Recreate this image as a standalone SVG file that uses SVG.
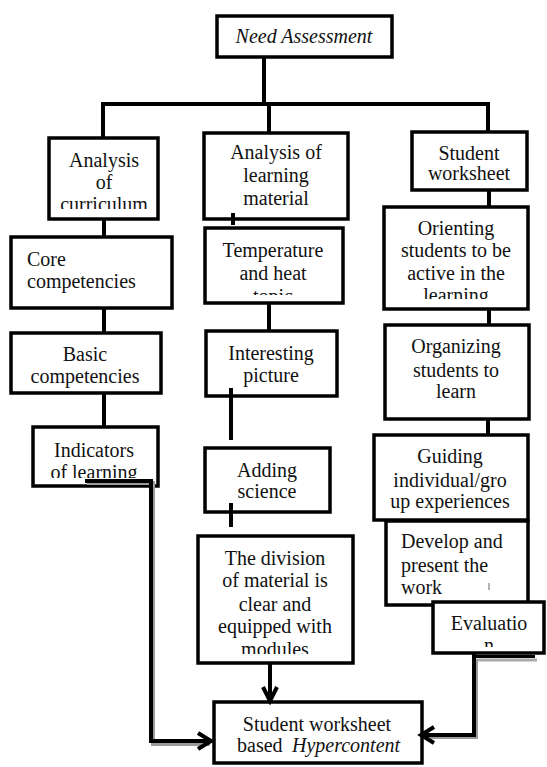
<svg xmlns="http://www.w3.org/2000/svg" width="547" height="767" viewBox="0 0 547 767">
<style>
.box{fill:#fff;stroke:#000;stroke-width:3.5}
.t{font-family:"Liberation Serif","Times New Roman",serif;font-size:20px;fill:#111}
.c{text-anchor:middle}
.ln{stroke:#000;stroke-width:4;fill:none}
.sh{stroke:#9a9a9a;stroke-width:4;fill:none}
</style>
<defs>
<clipPath id="cpCur"><rect x="49" y="138" width="110" height="71"/></clipPath>
<clipPath id="cpTem"><rect x="204" y="228" width="139" height="67"/></clipPath>
<clipPath id="cpOri"><rect x="383" y="207" width="145" height="92"/></clipPath>
<clipPath id="cpInd"><rect x="32" y="427" width="126" height="51"/></clipPath>
<clipPath id="cpDiv"><rect x="197" y="536" width="156" height="118"/></clipPath>
<clipPath id="cpEva"><rect x="433" y="602" width="112" height="45"/></clipPath>
</defs>
<rect width="547" height="767" fill="#fff"/>

<g id="need">
<rect class="box" x="217" y="16" width="175" height="41"/>
<text class="t c" x="304" y="43" font-style="italic">Need Assessment</text>
</g>

<g id="curriculum">
<rect class="box" x="49" y="138" width="109" height="81"/>
<g clip-path="url(#cpCur)">
<text class="t c" x="104" y="167">Analysis</text>
<text class="t c" x="104" y="189">of</text>
<text class="t c" x="104" y="211">curriculum</text>
</g>
</g>

<g id="core">
<rect class="box" x="11" y="237" width="161" height="71"/>
<text class="t" x="27" y="266">Core</text>
<text class="t" x="27" y="288">competencies</text>
</g>

<g id="basic">
<rect class="box" x="11" y="333" width="150" height="60"/>
<text class="t c" x="85" y="361">Basic</text>
<text class="t c" x="85" y="383">competencies</text>
</g>

<g id="indicators">
<rect class="box" x="33" y="427" width="125" height="59"/>
<g clip-path="url(#cpInd)">
<text class="t c" x="94" y="457">Indicators</text>
<text class="t c" x="94" y="479">of learning</text>
</g>
</g>

<g id="material">
<rect class="box" x="204" y="133" width="144" height="86"/>
<text class="t c" x="276" y="159">Analysis of</text>
<text class="t c" x="276" y="182">learning</text>
<text class="t c" x="276" y="205">material</text>
</g>

<g id="temperature">
<rect class="box" x="205" y="228" width="138" height="75"/>
<g clip-path="url(#cpTem)">
<text class="t c" x="273" y="257">Temperature</text>
<text class="t c" x="273" y="280">and heat</text>
<text class="t c" x="273" y="303">topic</text>
</g>
</g>

<g id="picture">
<rect class="box" x="206" y="331" width="131" height="65"/>
<text class="t c" x="271" y="360">Interesting</text>
<text class="t c" x="271" y="382">picture</text>
</g>

<g id="science">
<rect class="box" x="205" y="448" width="125" height="64"/>
<text class="t c" x="267" y="477">Adding</text>
<text class="t c" x="267" y="498">science</text>
</g>

<g id="division">
<rect class="box" x="198" y="536" width="155" height="127"/>
<g clip-path="url(#cpDiv)">
<text class="t c" x="275" y="565">The division</text>
<text class="t c" x="275" y="587">of material is</text>
<text class="t c" x="275" y="611">clear and</text>
<text class="t c" x="275" y="633">equipped with</text>
<text class="t c" x="275" y="656">modules</text>
</g>
</g>

<g id="worksheet">
<rect class="box" x="412" y="132" width="115" height="58"/>
<text class="t c" x="469" y="160" font-size="18">Student</text>
<text class="t c" x="469" y="180" font-size="18">worksheet</text>
</g>

<g id="orienting">
<rect class="box" x="384" y="207" width="144" height="102"/>
<g clip-path="url(#cpOri)">
<text class="t c" x="456" y="235">Orienting</text>
<text class="t c" x="456" y="257">students to be</text>
<text class="t c" x="456" y="280">active in the</text>
<text class="t c" x="456" y="302">learning</text>
</g>
</g>

<g id="organizing">
<rect class="box" x="385" y="325" width="144" height="94"/>
<text class="t c" x="456" y="353">Organizing</text>
<text class="t c" x="456" y="377">students to</text>
<text class="t c" x="456" y="398">learn</text>
</g>

<g id="guiding">
<rect class="box" x="374" y="435" width="154" height="85"/>
<text class="t c" x="450" y="463">Guiding</text>
<text class="t c" x="450" y="487">individual/gro</text>
<text class="t c" x="450" y="508">up experiences</text>
</g>

<g id="develop">
<rect class="box" x="386" y="521" width="142" height="84"/>
<text class="t" x="401" y="548">Develop and</text>
<text class="t" x="401" y="572">present the</text>
<text class="t" x="401" y="594">work</text>
</g>

<g id="evaluation">
<line x1="477" y1="660" x2="537" y2="660" stroke="#aaa" stroke-width="3"/>
<rect class="box" x="433" y="602" width="111" height="51"/>
<line x1="475" y1="656.5" x2="535" y2="656.5" stroke="#000" stroke-width="3"/>
<g clip-path="url(#cpEva)">
<text class="t c" x="489" y="630">Evaluatio</text>
<text class="t c" x="489" y="652">n</text>
</g>
</g>

<g id="result">
<rect class="box" x="214" y="702" width="208" height="61"/>
<text class="t c" x="317" y="731">Student worksheet</text>
<text class="t" x="237" y="752">based <tspan x="292" font-style="italic">Hypercontent</tspan></text>
</g>

<g id="connectors">
<line class="ln" x1="264" y1="57" x2="264" y2="104"/>
<line class="ln" x1="101" y1="104" x2="490" y2="104"/>
<line class="ln" x1="103" y1="104" x2="103" y2="138"/>
<line class="ln" x1="269" y1="104" x2="269" y2="133"/>
<line class="ln" x1="488" y1="104" x2="488" y2="132"/>
<line class="ln" x1="104" y1="219" x2="104" y2="237"/>
<line class="ln" x1="104" y1="308" x2="104" y2="333"/>
<line class="ln" x1="104" y1="393" x2="104" y2="427"/>
<line class="ln" x1="233" y1="213" x2="233" y2="225" stroke-width="5"/>
<line class="ln" x1="269" y1="303" x2="269" y2="331"/>
<line class="ln" x1="231" y1="388" x2="231" y2="440" stroke-width="5"/>
<line class="ln" x1="231" y1="503" x2="231" y2="527" stroke-width="5"/>
<line class="ln" x1="489" y1="190" x2="489" y2="207"/>
<line class="ln" x1="489" y1="309" x2="489" y2="325"/>
<line class="ln" x1="488" y1="419" x2="488" y2="435"/>
<line x1="489" y1="583" x2="489" y2="590" stroke="#666" stroke-width="1"/>
<line class="ln" x1="270" y1="663" x2="270" y2="701"/>
<polyline class="ln" points="263,687 270,701 277,687"/>
<polyline class="sh" points="87,483 153,483 153,744 210,744"/>
<polyline class="ln" points="85,481 151,481 151,741 211,741"/>
<polyline class="ln" points="198,733 211,741 198,749"/>
<polyline class="sh" points="476,659 476,737 423,737"/>
<polyline class="ln" points="474,653 474,735 421,735"/>
<polyline class="ln" points="434,727 421,735 434,743"/>
</g>
</svg>
